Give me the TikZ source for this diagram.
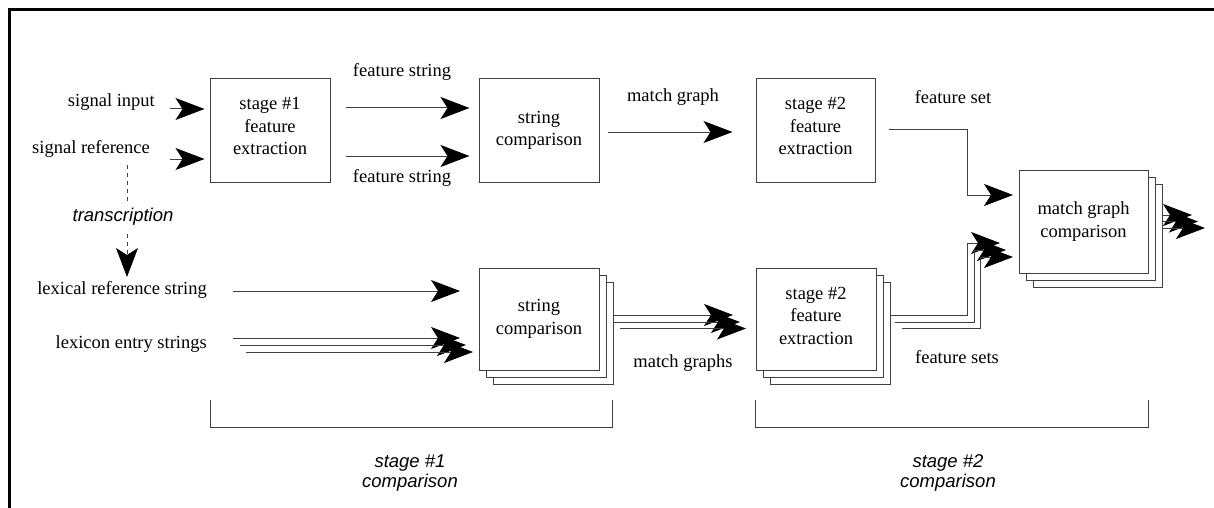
\documentclass[tikz,border=0pt]{standalone}
\usepackage{fontspec}
\setmainfont{Liberation Serif}
\setsansfont{Liberation Sans}
\usetikzlibrary{arrows.meta,calc}
\begin{document}
\begin{tikzpicture}[x=1pt,y=-1pt,
  lbl/.style={font=\fontsize{18.5}{22.5}\selectfont, inner sep=0pt, align=center},
  itl/.style={font=\fontsize{18.5}{20}\selectfont\sffamily\itshape, inner sep=0pt, align=center},
  box/.style={draw=black!75, line width=1pt, fill=white, inner sep=0pt, align=center,
    font=\fontsize{18.5}{22.5}\selectfont, minimum width=120pt, minimum height=102pt},
  three/.style={text depth=9pt},
  ln/.style={draw=black!75, line width=1pt},
  arr/.style={ln, -{Stealth[length=29pt,width=22pt,inset=7pt,color=black]}},
  frame/.style={draw=black, line width=3pt}]
\useasboundingbox (0,0) rectangle (1214,508);
% frame (top and left edges only)
\coordinate (fTR) at (1214,9.5);
\coordinate (fTL) at (9.5,9.5);
\coordinate (fBL) at (9.5,508);
\draw[frame] (fTR) -- (fTL) -- (fBL);

% ---- top row ----
\node[box, three, minimum height=103pt] (s1) at (270,130.5) {stage \#1\\feature\\extraction};
\node[box, minimum height=103pt] (sc1) at (539,130.5) {string\\comparison};
\node[box, three, minimum height=103pt, minimum width=119pt] (s2) at (815.5,130.5) {stage \#2\\feature\\extraction};

\node[lbl, anchor=east] (sigin) at (155,102) {signal input};
\node[lbl, anchor=east] (sigref) at (150,149) {signal reference};
\node[lbl] (fs1) at (402,72) {feature string};
\node[lbl] (fs2) at (402,178) {feature string};
\node[lbl] (mg) at (673,97) {match graph};
\node[lbl] (fset) at (953,97) {feature set};

\draw[arr] ($(s1.west)+(-40,28.5)$) -- ($(s1.west)+(-5,28.5)$);
\draw[arr] ($(s1.west)+(-40,-21.5)$) -- ($(s1.west)+(-5,-21.5)$);
\draw[arr] ($(s1.east)+(15,25.5)$) -- ($(sc1.west)+(-9,25.5)$);
\draw[arr] ($(s1.east)+(15,-22.5)$) -- ($(sc1.west)+(-9,-22.5)$);
\draw[arr] ($(sc1.east)+(8,1.5)$) -- ($(s2.west)+(-23,1.5)$);

% transcription
\node[itl] (trans) at (123,217) {transcription};
\coordinate (tr0) at (127,165);
\coordinate (tr1) at (127,205);
\coordinate (tr2) at (127,234);
\coordinate (tr3) at (127,277);
\draw[ln, dash pattern=on 4pt off 4pt] (tr0) -- (tr1);
\draw[arr, dash pattern=on 4pt off 4pt] (tr2) -- (tr3);

% ---- match graph comparison stack ----
\coordinate (fsA) at (967,129.5);
\coordinate (fsB) at (967,195);
\draw[ln] ($(s2.east)+(13,-1)$) -- (fsA) -- (fsB);
\draw[arr] (fsB) -- (1013,195);

% output arrows
\draw[arr] (1148,215) -- (1192,215);
\draw[arr] (1155,221.5) -- (1198,221.5);
\draw[arr] (1162,228) -- (1205,228);

\node[box, minimum width=129pt, minimum height=103pt] (mgc3) at (1097.5,235.5) {};
\node[box, minimum width=129pt, minimum height=103pt] (mgc2) at (1090.5,228.5) {};
\node[box, minimum width=129pt, minimum height=103pt] (mgc) at (1083.5,221.5) {match graph\\comparison};

% ---- bottom row ----
\node[lbl, anchor=east] (lrs) at (207,290) {lexical reference string};
\node[lbl, anchor=east] (les) at (207,344) {lexicon entry strings};

\draw[arr] (233,291) -- (460,291);
\draw[arr] (233,338) -- (460,338);
\draw[arr] (240,345) -- (466,345);
\draw[arr] (246,352) -- (473,352);

% match graphs arrows
\draw[arr] (606,315) -- (733,315);
\draw[arr] (613,322) -- (740,322);
\draw[arr] (620,328.5) -- (746,328.5);

\node[box] (sc2c) at (553,333) {};
\node[box] (sc2b) at (546,326) {};
\node[box] (sc2) at (539,319) {string\\comparison};

% feature sets paths
\draw[ln] (888,315) -- (967,315) -- (967,243);
\draw[arr] (967,243) -- (1000,243);
\draw[ln] (895,322) -- (974,322) -- (974,250);
\draw[arr] (974,250) -- (1006,250);
\draw[ln] (902,328.5) -- (980,328.5) -- (980,257);
\draw[arr] (980,257) -- (1013,257);

\node[box] (s2bc) at (830,333) {};
\node[box] (s2bb) at (823,326) {};
\node[box, text depth=7pt] (s2b) at (816,319) {stage \#2\\feature\\extraction};

\node[lbl] (mgs) at (683,363) {match graphs};
\node[lbl] (fsets) at (957,357) {feature sets};

% ---- brackets ----
\coordinate (b1a) at (210,400);
\coordinate (b1b) at (210,427);
\coordinate (b1c) at (612,427);
\coordinate (b1d) at (612,400);
\draw[ln] (b1a) -- (b1b) -- (b1c) -- (b1d);
\coordinate (b2a) at (755,400);
\coordinate (b2b) at (755,427);
\coordinate (b2c) at (1148,427);
\coordinate (b2d) at (1148,400);
\draw[ln] (b2a) -- (b2b) -- (b2c) -- (b2d);
\node[itl] (st1) at (410,473) {stage \#1\\comparison};
\node[itl] (st2) at (948,473) {stage \#2\\comparison};
\end{tikzpicture}
\end{document}
